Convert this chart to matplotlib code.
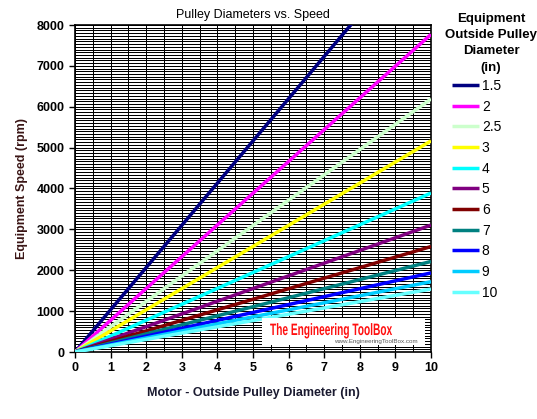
import matplotlib
matplotlib.use("Agg")
import matplotlib.pyplot as plt
from matplotlib.ticker import MultipleLocator
from matplotlib.patches import Rectangle, PathPatch
from matplotlib.textpath import TextPath
from matplotlib.font_manager import FontProperties
from matplotlib.transforms import Affine2D

plt.rcParams["font.family"] = ["Liberation Sans", "DejaVu Sans"]

# motor pulley diameter (in)
motor_dia = [0, 10]

# equipment pulley diameters (in) and speed read at motor diameter 10 in (rpm)
equip_dia = ["1.5", "2", "2.5", "3", "4", "5", "6", "7", "8", "9", "10"]
speed_at_10 = [10330, 7770, 6190, 5165, 3890, 3105, 2580, 2215, 1935, 1720, 1540]
colors = ["#000080", "#FF00FF", "#CCFFCC", "#FFFF00", "#00FFFF", "#800080",
          "#800000", "#008080", "#0000FF", "#00CCFF", "#66FFFF"]

W, H = 537, 419
fig = plt.figure(figsize=(W / 100, H / 100), dpi=100)
ax = fig.add_axes([75 / W, 1 - 352 / H, 356 / W, 327 / H])

for d, s, c in zip(equip_dia, speed_at_10, colors):
    ax.plot(motor_dia, [0, s], color=c, lw=2.5, label=d, zorder=3,
            solid_capstyle="butt")

ax.set_xlim(0, 10)
ax.set_ylim(0, 8000)
ax.xaxis.set_major_locator(MultipleLocator(1))
ax.xaxis.set_minor_locator(MultipleLocator(0.5))
ax.yaxis.set_major_locator(MultipleLocator(1000))
ax.yaxis.set_minor_locator(MultipleLocator(1000 / 15))
ax.grid(which="both", color="black", lw=0.5, zorder=1, antialiased=False)
ax.tick_params(which="major", direction="out", length=4, width=1, labelsize=9)
ax.tick_params(which="minor", length=0)
for lab in ax.get_xticklabels() + ax.get_yticklabels():
    lab.set_fontweight("bold")
for sp in ax.spines.values():
    sp.set_linewidth(1.2)

ax.set_title("Pulley Diameters vs. Speed", fontsize=9, pad=5)
ax.set_xlabel("Motor - Outside Pulley Diameter (in)", fontsize=9,
              fontweight="bold", labelpad=9, color="#1a1a30")
ax.set_ylabel("Equipment Speed (rpm)", fontsize=9, fontweight="bold",
              color="#3a1515", labelpad=6)

# watermark
ax.add_patch(Rectangle((0.525, 0.021), 0.458, 0.083, transform=ax.transAxes,
                       facecolor="white", edgecolor="none", zorder=4))
tp = TextPath((0, 0), "The Engineering ToolBox", size=16.5,
              prop=FontProperties(family="Liberation Sans", weight="bold"))
sx = 122 / tp.get_extents().width
fig.patches.append(PathPatch(
    tp, transform=Affine2D().scale(sx, 1).translate(270, H - 335),
    facecolor="#FF1010", edgecolor="none", zorder=5))
ax.text(0.962, 0.033, "www.EngineeringToolBox.com", transform=ax.transAxes,
        color="#555555", fontsize=4.5, ha="right", va="center", zorder=5)

# legend
fig.text(491 / W, 1 - 13 / H, "Equipment\nOutside Pulley\nDiameter\n(in)",
         fontsize=9.5, fontweight="bold", ha="center", va="top",
         multialignment="center", linespacing=1.47)
leg = ax.legend(loc="upper left", bbox_to_anchor=(452 / W, 1 - 79 / H),
                bbox_transform=fig.transFigure, frameon=False,
                fontsize=10, handlelength=1.95, handletextpad=0.2,
                labelspacing=0.48, borderaxespad=0, borderpad=0)
for h in leg.get_lines():
    h.set_linewidth(2.5)

fig.savefig("out.png", dpi=100)
